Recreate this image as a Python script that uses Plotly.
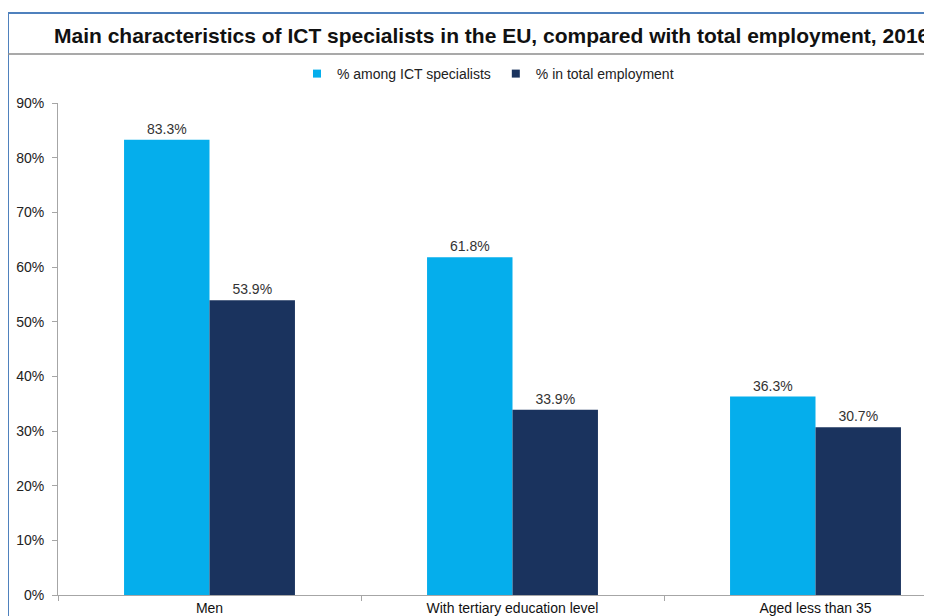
import plotly.graph_objects as go

categories = ["Men", "With tertiary education level", "Aged less than 35"]
ict_specialists = [83.3, 61.8, 36.3]
total_employment = [53.9, 33.9, 30.7]
series_names = ["% among ICT specialists", "% in total employment"]
series_colors = ["#05aeec", "#1a335e"]
y_ticks = [0, 10, 20, 30, 40, 50, 60, 70, 80, 90]
y_tick_labels = [f"{v}%" for v in y_ticks]
title = "Main characteristics of ICT specialists in the EU, compared with total employment, 2016"

# the page body has an 8px margin: figure coords = screen coords - 8
OFF = 8
W, H = 932 - OFF, 616 - OFF
L = 58 - OFF
T = 103 - OFF
B = H - (595 - OFF)
R = 0
pw = W - L - R
ph = H - T - B
cat_px = 303.0


def px_x(s):
    return (s - OFF - L) / pw


def px_y(s):
    return (H - B - (s - OFF)) / ph


font = "Liberation Sans, Arial, sans-serif"

fig = go.Figure()
for name, vals, col in zip(series_names, [ict_specialists, total_employment], series_colors):
    fig.add_trace(go.Bar(
        x=categories, y=vals, name=name, legendgroup=name, showlegend=False,
        marker=dict(color=col, line=dict(width=0)),
        texttemplate="%{y:.1f}%", textposition="outside",
        textfont=dict(size=14, color="#333333", family=font),
        cliponaxis=False,
    ))
for name, col in zip(series_names, series_colors):
    fig.add_trace(go.Scatter(
        x=[None], y=[None], name=name, legendgroup=name, mode="markers",
        marker=dict(symbol="square", size=8, color=col),
    ))

fig.update_layout(
    width=W, height=H,
    margin=dict(l=L, r=R, t=T, b=B, pad=0),
    paper_bgcolor="white", plot_bgcolor="white",
    barmode="group", bargap=0.436, bargroupgap=0,
    font=dict(family=font, size=14, color="#222222"),
    showlegend=True,
    legend=dict(orientation="h", x=px_x(488), xanchor="center", y=px_y(74), yanchor="middle",
                font=dict(size=14, color="#222222"), itemwidth=30,
                traceorder="normal", bgcolor="rgba(0,0,0,0)"),
    xaxis=dict(range=[-0.5, -0.5 + pw / cat_px], showline=True, linecolor="#a6a6a6",
               linewidth=1, ticks="outside", tickson="boundaries", ticklen=5,
               tickcolor="#a6a6a6", showgrid=False, zeroline=False,
               tickfont=dict(size=14, color="#111111")),
    yaxis=dict(range=[0, 90], tickvals=y_ticks, ticktext=y_tick_labels,
               showline=True, linecolor="#a6a6a6", linewidth=1, ticks="outside",
               ticklen=5, tickcolor="#a6a6a6", showgrid=False, zeroline=False,
               ticklabelstandoff=5,
               tickfont=dict(size=14, color="#222222")),
    shapes=[
        dict(type="line", xref="paper", yref="paper", x0=px_x(8), x1=px_x(8),
             y0=px_y(13), y1=px_y(640), line=dict(color="#4f81bd", width=2)),
        dict(type="line", xref="paper", yref="paper", x0=px_x(8), x1=px_x(960),
             y0=px_y(13), y1=px_y(13), line=dict(color="#4f81bd", width=2)),
        dict(type="line", xref="paper", yref="paper", x0=px_x(8), x1=px_x(960),
             y0=px_y(54), y1=px_y(54), line=dict(color="#8c8c8c", width=1.5)),
    ],
    annotations=[
        dict(text="<b>" + title + "</b>", xref="paper", yref="paper",
             x=px_x(52), y=px_y(35), xanchor="left", yanchor="middle",
             showarrow=False, font=dict(size=21, color="#111111", family=font)),
    ],
)

fig.write_html("out.html")
